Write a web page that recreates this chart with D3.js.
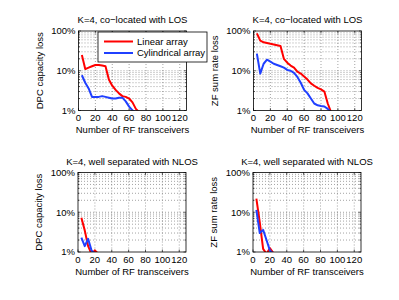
<!DOCTYPE html>
<html>
<head>
<meta charset="utf-8">
<script src="https://cdn.jsdelivr.net/npm/d3@7"></script>
<style>
  body { margin: 0; background: #fff; }
  text { font-family: "Liberation Sans", Arial, sans-serif; }
</style>
</head>
<body>
<div id="chart"></div>
<script>
const width = 399;
const height = 300;

// data (loss as fraction)
const xTicks = [0, 20, 40, 60, 80, 100, 120];
const yTicks = [0.01, 0.1, 1];

const dpcLosLinearX = [4, 8, 12, 16, 20, 24, 28, 32, 36, 40, 44, 48, 52, 56, 60, 64, 68, 72];
const dpcLosLinearY = [0.25, 0.11, 0.12, 0.13, 0.14, 0.14, 0.135, 0.13, 0.06, 0.042, 0.033, 0.027, 0.023, 0.022, 0.02, 0.016, 0.011, 0.009];
const dpcLosCylX = [4, 8, 12, 16, 20, 24, 28, 32, 36, 40, 44, 48, 52, 56, 60, 64, 68];
const dpcLosCylY = [0.077, 0.05, 0.036, 0.022, 0.022, 0.022, 0.023, 0.022, 0.021, 0.02, 0.02, 0.021, 0.021, 0.017, 0.0125, 0.01, 0.009];

const zfLosLinearX = [4, 8, 12, 16, 20, 24, 28, 32, 36, 40, 44, 48, 52, 56, 60, 64, 68, 72, 76, 80, 84, 88, 92];
const zfLosLinearY = [0.87, 0.57, 0.52, 0.5, 0.48, 0.46, 0.44, 0.42, 0.2, 0.16, 0.135, 0.12, 0.095, 0.085, 0.072, 0.06, 0.048, 0.042, 0.037, 0.034, 0.03, 0.015, 0.009];
const zfLosCylX = [4, 8, 12, 16, 20, 24, 28, 32, 36, 40, 44, 48, 52, 56, 60, 64, 68, 72, 76, 80, 84, 88, 92];
const zfLosCylY = [0.27, 0.085, 0.15, 0.19, 0.17, 0.15, 0.14, 0.13, 0.12, 0.105, 0.1, 0.088, 0.07, 0.05, 0.033, 0.027, 0.02, 0.015, 0.0135, 0.013, 0.0126, 0.011, 0.009];

const dpcNlosLinearX = [4, 8, 12, 16, 20, 24];
const dpcNlosLinearY = [0.073, 0.035, 0.014, 0.009, 0.011, 0.009];
const dpcNlosCylX = [4, 8, 12, 16, 20];
const dpcNlosCylY = [0.023, 0.014, 0.0215, 0.011, 0.009];

const zfNlosLinearX = [4, 8, 12, 16, 20, 24];
const zfNlosLinearY = [0.22, 0.056, 0.012, 0.009, 0.0125, 0.0095];
const zfNlosCylX = [4, 8, 12, 16, 20, 24];
const zfNlosCylY = [0.115, 0.03, 0.036, 0.02, 0.011, 0.009];

const legendLabels = ["Linear array", "Cylindrical array"];
const colors = ["#ff0000", "#2040ff"];

const panels = [
  { title: "K=4, co\u2212located with LOS", ylabel: "DPC capacity loss", left: 78.5, top: 31,
    series: [[dpcLosLinearX, dpcLosLinearY], [dpcLosCylX, dpcLosCylY]] },
  { title: "K=4, co\u2212located with LOS", ylabel: "ZF sum rate loss", left: 253.5, top: 31,
    series: [[zfLosLinearX, zfLosLinearY], [zfLosCylX, zfLosCylY]] },
  { title: "K=4, well separated with NLOS", ylabel: "DPC capacity loss", left: 78, top: 172.5,
    series: [[dpcNlosLinearX, dpcNlosLinearY], [dpcNlosCylX, dpcNlosCylY]] },
  { title: "K=4, well separated with NLOS", ylabel: "ZF sum rate loss", left: 253, top: 172.5,
    series: [[zfNlosLinearX, zfNlosLinearY], [zfNlosCylX, zfNlosCylY]] }
];

const pw = 108;
const ph = 79.5;
const fs = 9.5;

const svg = d3.select("#chart").append("svg")
  .attr("width", width)
  .attr("height", height);

const minorTicks = [];
[0.01, 0.1].forEach((d) => {
  for (let k = 2; k <= 9; k++) minorTicks.push(d * k);
});

panels.forEach((p, i) => {
  const x = d3.scaleLinear().domain([0, 128]).range([0, pw]);
  const y = d3.scaleLog().domain([0.01, 1]).range([ph, 0]);

  const g = svg.append("g").attr("transform", `translate(${p.left},${p.top})`);

  g.append("clipPath").attr("id", "clip" + i)
    .append("rect").attr("width", pw).attr("height", ph);

  // grid
  g.append("g").selectAll("line")
    .data(xTicks.slice(1))
    .enter().append("line")
    .attr("x1", (d) => x(d)).attr("x2", (d) => x(d))
    .attr("y1", 0).attr("y2", ph)
    .attr("stroke", "#666").attr("stroke-width", 0.6)
    .attr("stroke-dasharray", "1,2");

  g.append("g").selectAll("line")
    .data(minorTicks.concat([0.1]))
    .enter().append("line")
    .attr("x1", 0).attr("x2", pw)
    .attr("y1", (d) => y(d)).attr("y2", (d) => y(d))
    .attr("stroke", "#666").attr("stroke-width", 0.6)
    .attr("stroke-dasharray", "1,2");

  // ticks inside
  const tk = g.append("g").attr("stroke", "#000").attr("stroke-width", 0.6);
  xTicks.forEach((d) => {
    tk.append("line").attr("x1", x(d)).attr("x2", x(d)).attr("y1", ph).attr("y2", ph - 2.5);
    tk.append("line").attr("x1", x(d)).attr("x2", x(d)).attr("y1", 0).attr("y2", 2.5);
  });
  yTicks.concat(minorTicks).forEach((d) => {
    const len = yTicks.includes(d) ? 2.5 : 1.5;
    tk.append("line").attr("x1", 0).attr("x2", len).attr("y1", y(d)).attr("y2", y(d));
    tk.append("line").attr("x1", pw).attr("x2", pw - len).attr("y1", y(d)).attr("y2", y(d));
  });

  // lines
  const line = d3.line().x((d) => x(d[0])).y((d) => y(d[1]));
  p.series.forEach((s, j) => {
    const pts = s[0].map((v, k) => [v, s[1][k]]);
    g.append("path")
      .attr("clip-path", `url(#clip${i})`)
      .attr("d", line(pts))
      .attr("fill", "none")
      .attr("stroke", colors[j])
      .attr("stroke-width", 2)
      .attr("stroke-linejoin", "round");
  });

  // box
  g.append("rect").attr("width", pw).attr("height", ph)
    .attr("fill", "none").attr("stroke", "#000").attr("stroke-width", 0.8);

  // tick labels
  g.append("g").selectAll("text")
    .data(xTicks)
    .enter().append("text")
    .attr("x", (d) => x(d)).attr("y", ph + 10.5)
    .attr("text-anchor", "middle")
    .attr("font-size", fs)
    .text((d) => d);

  g.append("g").selectAll("text")
    .data(yTicks)
    .enter().append("text")
    .attr("x", -3).attr("y", (d) => y(d) + 3.3)
    .attr("text-anchor", "end")
    .attr("font-size", fs)
    .text((d) => d3.format(".0%")(d));

  g.append("text")
    .attr("x", pw / 2).attr("y", -8)
    .attr("text-anchor", "middle")
    .attr("font-size", fs)
    .text(p.title);

  g.append("text")
    .attr("x", pw / 2).attr("y", ph + 22.5)
    .attr("text-anchor", "middle")
    .attr("font-size", fs)
    .text("Number of RF transceivers");

  g.append("text")
    .attr("transform", `translate(-36,${ph / 2}) rotate(-90)`)
    .attr("text-anchor", "middle")
    .attr("font-size", fs)
    .text(p.ylabel);
});

// legend
const lg = svg.append("g").attr("transform", "translate(98,32)");
lg.append("rect").attr("width", 109).attr("height", 30)
  .attr("fill", "#fff").attr("stroke", "#000").attr("stroke-width", 0.8);
legendLabels.forEach((t, j) => {
  const yy = 9.5 + j * 11.5;
  lg.append("line").attr("x1", 6).attr("x2", 35).attr("y1", yy).attr("y2", yy)
    .attr("stroke", colors[j]).attr("stroke-width", 2);
  lg.append("text").attr("x", 39).attr("y", yy + 3.3)
    .attr("font-size", fs).text(t);
});
</script>
</body>
</html>
